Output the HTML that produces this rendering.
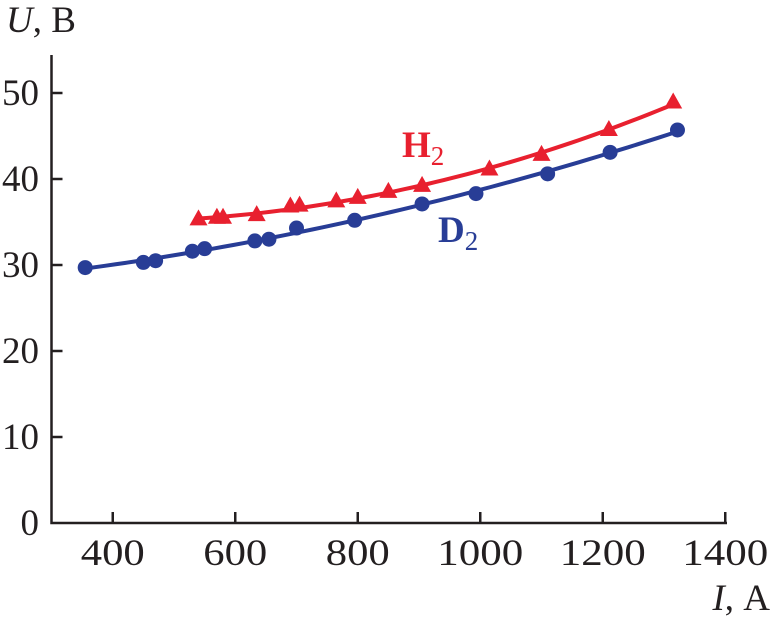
<!DOCTYPE html>
<html><head><meta charset="utf-8"><style>
html,body{margin:0;padding:0;background:#fff;}
svg{display:block;font-family:"Liberation Serif",serif;}
</style></head><body>
<svg id="chart" width="771" height="619">
<g id="axes"></g>
<g id="series"></g>
</svg>
<script>
const xTicks=[400,600,800,1000,1200,1400];
const yTicks=[0,10,20,30,40,50];
const d2I=[355,450,470,530,550,632,655,700,795,905,993,1110,1212,1322];
const d2U=[29.7,30.3,30.5,31.6,31.9,32.8,33.0,34.3,35.2,37.1,38.3,40.6,43.1,45.7];
const h2I=[540,570,580,635,690,705,765,800,850,905,1015,1100,1210,1315];
const h2U=[35.3,35.5,35.5,35.8,36.8,36.9,37.4,37.8,38.5,39.2,41.1,42.8,45.7,48.9];

const NS='http://www.w3.org/2000/svg';
const X0=51.5,Y0=523;
function sx(v){return X0+(v-300)*(122.5/200);}
function sy(v){return Y0-v*8.6;}
function mk(tag,attrs,parent){const e=document.createElementNS(NS,tag);for(const k in attrs)e.setAttribute(k,attrs[k]);parent.appendChild(e);return e;}
const axes=document.getElementById('axes');
const ser=document.getElementById('series');
let ax=mk('path',{d:`M${X0},55 L${X0},${Y0} L727,${Y0}`,fill:'none',stroke:'#231f20','stroke-width':2.5},axes);


const FS=37;
xTicks.forEach(v=>{
 const t=mk('line',{x1:sx(v),x2:sx(v),y1:Y0,y2:Y0-11,stroke:'#231f20','stroke-width':2.5},axes);
 
 
 const l=mk('text',{x:sx(v),y:565,'font-size':FS,'text-anchor':'middle',fill:'#231f20',textLength:v>=1000?86:64,lengthAdjust:'spacingAndGlyphs'},axes);
 l.textContent=v;
 
 
});
yTicks.forEach(v=>{
 if(v>0){const t=mk('line',{x1:X0,x2:X0+11,y1:sy(v),y2:sy(v),stroke:'#231f20','stroke-width':2.5},axes);
 
 }
 const l=mk('text',{x:39,y:sy(v)+12,'font-size':FS,'text-anchor':'end',fill:'#231f20'},axes);
 l.textContent=v;
 
 
});
let yt=mk('text',{x:6,y:32,'font-size':FS,fill:'#231f20'},axes);
yt.innerHTML='<tspan font-style="italic">U</tspan>, В';


let xt=mk('text',{x:770,y:610,'font-size':FS,'text-anchor':'end',fill:'#231f20'},axes);
xt.innerHTML='<tspan font-style="italic">I</tspan>, А';



// least-squares quadratic fit drawn through data range
function fitPath(xs,ys){
 const n=xs.length;let S=[0,0,0,0,0],T=[0,0,0];
 const m=xs.reduce((a,b)=>a+b)/n;
 xs.forEach((x,i)=>{const u=x-m;for(let k=0;k<5;k++)S[k]+=Math.pow(u,k);for(let k=0;k<3;k++)T[k]+=ys[i]*Math.pow(u,k);});
 const A=[[S[0],S[1],S[2],T[0]],[S[1],S[2],S[3],T[1]],[S[2],S[3],S[4],T[2]]];
 for(let i=0;i<3;i++){for(let j=i+1;j<3;j++){const f=A[j][i]/A[i][i];for(let k=i;k<4;k++)A[j][k]-=f*A[i][k];}}
 const c=[0,0,0];for(let i=2;i>=0;i--){let s=A[i][3];for(let k=i+1;k<3;k++)s-=A[i][k]*c[k];c[i]=s/A[i][i];}
 const x0=Math.min(...xs),x1=Math.max(...xs);let d='';
 for(let j=0;j<=60;j++){const x=x0+(x1-x0)*j/60,u=x-m;d+=(j?'L':'M')+sx(x)+','+sy(c[0]+c[1]*u+c[2]*u*u);}
 return d;
}
const blue='#283d96',red='#e8202f';
let lb=mk('path',{d:fitPath(d2I,d2U),fill:'none',stroke:blue,'stroke-width':4},ser);


let lr=mk('path',{d:fitPath(h2I,h2U),fill:'none',stroke:red,'stroke-width':4},ser);


d2I.forEach((v,i)=>{
 const c=mk('circle',{cx:sx(v),cy:sy(d2U[i]),r:7.5,fill:blue},ser);
 
 
});
h2I.forEach((v,i)=>{
 const x=sx(v),y=sy(h2U[i]);
 const t=mk('polygon',{points:`${x},${y-10} ${x-9},${y+6} ${x+9},${y+6}`,fill:red},ser);
 
 
});
let lh=mk('text',{x:402,y:157,'font-size':FS,'font-weight':'bold',fill:red},ser);
lh.innerHTML='H<tspan font-size="27" dy="8" font-weight="normal">2</tspan>';


let ld=mk('text',{x:438,y:242,'font-size':FS,'font-weight':'bold',fill:blue},ser);
ld.innerHTML='D<tspan font-size="27" dy="8" font-weight="normal">2</tspan>';


</script>
</body></html>
